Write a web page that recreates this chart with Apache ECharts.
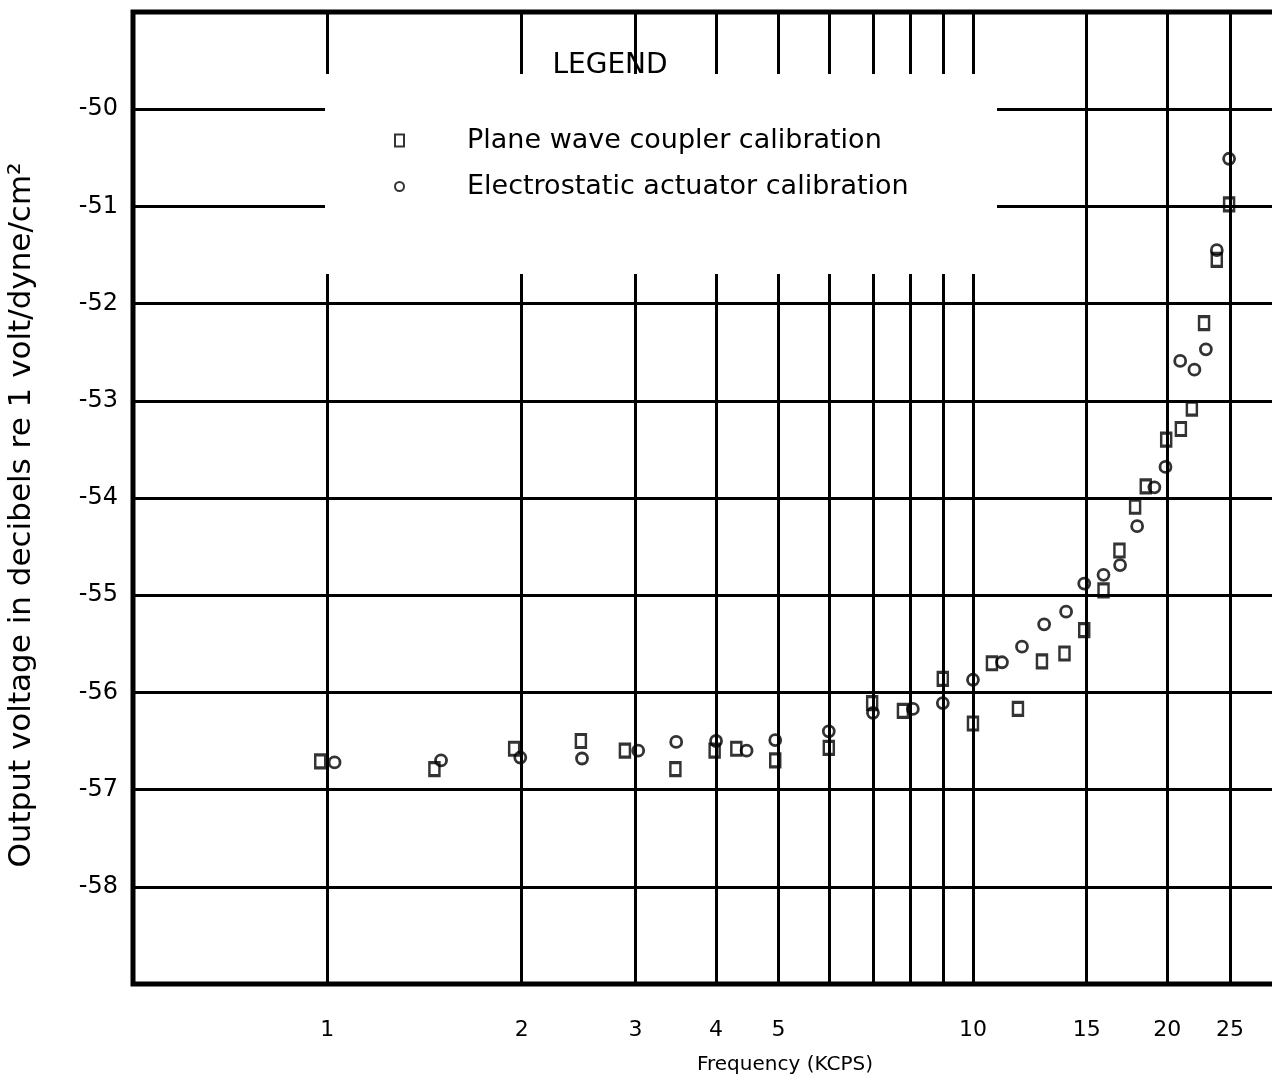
<!DOCTYPE html>
<html>
<head>
<meta charset="utf-8">
<script src="https://cdn.jsdelivr.net/npm/echarts@6/dist/echarts.min.js"></script>
<style>
  html, body { margin: 0; padding: 0; background: #fff; }
  #chart { width: 1272px; height: 1086px; }
</style>
</head>
<body>
<div id="chart"></div>
<script>
// frequency (kcps) / output (dB re 1 V/dyne/cm²)
const planeWave = [
  [0.975, -56.71], [1.465, -56.79], [1.947, -56.58], [2.47, -56.50], [2.89, -56.60],
  [3.46, -56.79], [3.98, -56.60], [4.30, -56.58], [4.94, -56.70], [5.98, -56.57],
  [6.98, -56.11], [7.79, -56.19], [8.98, -55.86], [10.0, -56.32], [10.7, -55.70],
  [11.74, -56.17], [12.79, -55.68], [13.86, -55.60], [14.87, -55.36], [15.93, -54.95],
  [16.86, -54.54], [17.83, -54.09], [18.52, -53.88], [19.92, -53.40], [20.99, -53.29],
  [21.83, -53.08], [22.8, -52.20], [23.86, -51.55], [24.93, -50.98],
];
const electrostatic = [
  [1.026, -56.72], [1.50, -56.70], [1.99, -56.67], [2.48, -56.68], [3.03, -56.60],
  [3.47, -56.51], [4.00, -56.50], [4.46, -56.60], [4.94, -56.49], [5.98, -56.40],
  [7.00, -56.21], [8.07, -56.17], [8.98, -56.11], [10.0, -55.87], [11.09, -55.69],
  [11.91, -55.53], [12.89, -55.30], [13.94, -55.17], [14.87, -54.88], [15.93, -54.79],
  [16.9, -54.69], [17.96, -54.29], [19.1, -53.89], [19.87, -53.68], [20.94, -52.59],
  [22.03, -52.68], [22.95, -52.47], [23.86, -51.45], [24.93, -50.51],
];
const freqGrid = [1, 2, 3, 4, 5, 6, 7, 8, 9, 10, 15, 20, 25];
const freqLabels = [1, 2, 3, 4, 5, 10, 15, 20, 25];
const dbLabels = [-58, -57, -56, -55, -54, -53, -52, -51, -50];

const FONT = "DejaVu Sans";

const chart = echarts.init(document.getElementById("chart"));
chart.setOption({
  animation: false,
  backgroundColor: "#fff",
  textStyle: { fontFamily: FONT, color: "#000" },
  // plot runs off the right edge of the page, like the scan
  grid: {
    left: 133, right: -9, top: 12, bottom: 102,
    outerBoundsMode: "none",
    show: true, borderColor: "#000", borderWidth: 5,
  },
  xAxis: {
    type: "log",
    logBase: 10,
    min: 0.5,
    max: 30,
    name: "Frequency (KCPS)",
    nameLocation: "middle",
    nameGap: 71,
    nameTextStyle: { fontSize: 20, color: "#000", padding: [0, 0, 0, 156] },
    axisLine: { show: false },
    axisTick: { show: false, customValues: freqGrid },
    axisLabel: { customValues: freqLabels, margin: 35, fontSize: 22, color: "#000" },
    splitLine: { show: true, lineStyle: { color: "#000", width: 3 } },
    minorSplitLine: { show: false },
  },
  yAxis: {
    type: "value",
    min: -59,
    max: -49,
    interval: 1,
    name: "Output voltage in decibels re 1 volt/dyne/cm²",
    nameLocation: "middle",
    nameGap: 96,
    nameTextStyle: { fontSize: 31, color: "#000", padding: [0, 34, 0, 0] },
    axisLine: { show: false },
    axisTick: { show: false },
    axisLabel: { customValues: dbLabels, margin: 15, fontSize: 24, color: "#000" },
    splitLine: { show: true, lineStyle: { color: "#000", width: 3 } },
  },
  legend: {
    orient: "vertical",
    left: 389,
    top: 122,
    itemWidth: 9,
    itemHeight: 12,
    itemGap: 19,
    z: 6,
    textStyle: { fontSize: 27, fontFamily: FONT, color: "#000", padding: [0, 0, 0, 58] },
    data: ["Plane wave coupler calibration", "Electrostatic actuator calibration"],
  },
  graphic: [
    { type: "rect", z: 3, shape: { x: 325, y: 74, width: 672, height: 200 }, style: { fill: "#fff" } },
    {
      type: "text", z: 6, x: 610, y: 66,
      style: { text: "LEGEND", font: "28px " + FONT, fill: "#000", align: "center", verticalAlign: "middle" },
    },
  ],
  series: [
    {
      name: "Plane wave coupler calibration",
      type: "scatter",
      symbol: "rect",
      symbolSize: [10, 13],
      itemStyle: { color: "rgba(0,0,0,0)", borderColor: "#000", borderWidth: 2.8 },
      data: planeWave,
    },
    {
      name: "Electrostatic actuator calibration",
      type: "scatter",
      symbol: "circle",
      symbolSize: 11,
      itemStyle: { color: "rgba(0,0,0,0)", borderColor: "#000", borderWidth: 2.8 },
      data: electrostatic,
    },
  ],
});
</script>
</body>
</html>
